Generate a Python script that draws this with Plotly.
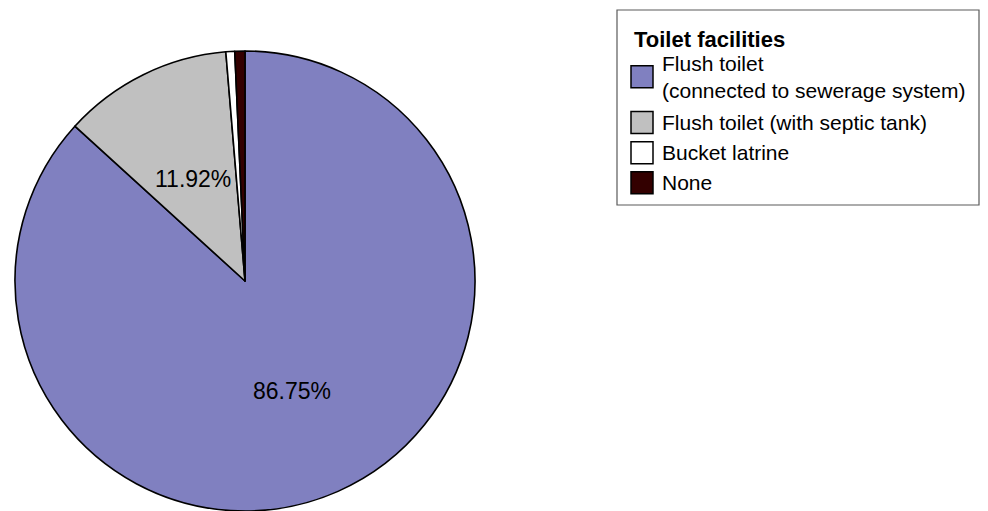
import math
import plotly.graph_objects as go

# Share of households by type of toilet facility (%)
categories = [
    "Flush toilet<br>(connected to sewerage system)",
    "Flush toilet (with septic tank)",
    "Bucket latrine",
    "None",
]
shares = [86.75, 11.92, 0.62, 0.71]
slice_colors = ["#8080C0", "#C0C0C0", "#FFFFFF", "#330000"]
legend_title = "Toilet facilities"
show_label = [True, True, False, False]

W, H = 988, 511
FONT = "Liberation Sans, Arial, sans-serif"

# pie placement (pixels)
cx, cy_top, R = 245, 281, 230
dom_x = [(cx - R) / W, (cx + R) / W]
dom_y = [(H - cy_top - R) / H, (H - cy_top + R) / H]

fig = go.Figure(
    go.Pie(
        labels=[c.replace("<br>", " ") for c in categories],
        values=shares,
        sort=False,
        direction="clockwise",
        rotation=0,
        marker=dict(colors=slice_colors, line=dict(color="#000000", width=1.6)),
        textinfo="none",
        hoverinfo="label+value",
        domain=dict(x=dom_x, y=dom_y),
        showlegend=False,
    )
)

def px(x):
    return x / W

def py(y):
    return 1 - y / H

annotations = []
shapes = []

# percentage labels along each slice's mid-angle
total = sum(shares)
start = 0.0
for v, show in zip(shares, show_label):
    mid = (start + v / 2) / total * 2 * math.pi
    start += v
    if not show:
        continue
    lx = cx + 0.51 * R * math.sin(mid)
    ly = cy_top - 0.51 * R * math.cos(mid) + 3
    annotations.append(dict(
        x=px(lx), y=py(ly), xref="paper", yref="paper",
        text=f"{v:.2f}%", showarrow=False,
        xanchor="center", yanchor="middle",
        font=dict(family=FONT, size=23, color="#000000"),
    ))

# legend box
shapes.append(dict(
    type="rect", xref="paper", yref="paper",
    x0=px(617), x1=px(979), y0=py(205), y1=py(10),
    line=dict(color="#5a5a5a", width=1.2), fillcolor="rgba(0,0,0,0)",
))
annotations.append(dict(
    x=px(632), y=py(39), xref="paper", yref="paper",
    text=f"<b>{legend_title}</b>", showarrow=False,
    xanchor="left", yanchor="middle",
    font=dict(family=FONT, size=22, color="#000000"),
))

row_centers = [76.7, 122.5, 152.7, 182.7]
sq = 22
for name, col, yc in zip(categories, slice_colors, row_centers):
    shapes.append(dict(
        type="rect", xref="paper", yref="paper",
        x0=px(631), x1=px(631 + sq), y0=py(yc + sq / 2), y1=py(yc - sq / 2),
        line=dict(color="#000000", width=1.5), fillcolor=col,
    ))
    annotations.append(dict(
        x=px(660), y=py(yc), xref="paper", yref="paper",
        text=name, showarrow=False, align="left",
        xanchor="left", yanchor="middle",
        font=dict(family=FONT, size=21, color="#000000"),
    ))

fig.update_layout(
    width=W, height=H,
    margin=dict(l=0, r=0, t=0, b=0),
    paper_bgcolor="#FFFFFF",
    plot_bgcolor="#FFFFFF",
    shapes=shapes,
    annotations=annotations,
)

fig.write_html("out.html")
